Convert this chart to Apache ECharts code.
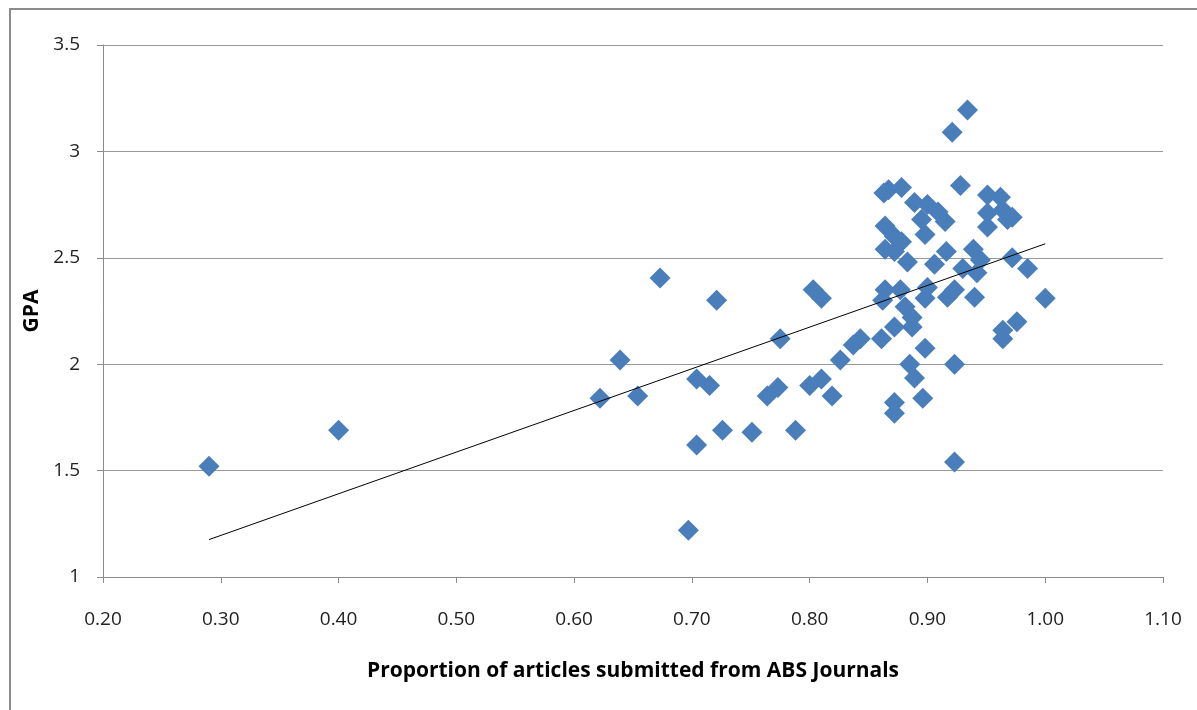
<!DOCTYPE html>
<html>
<head>
<meta charset="utf-8">
<script src="https://cdn.jsdelivr.net/npm/echarts@6/dist/echarts.min.js"></script>
<style>
html,body{margin:0;padding:0;background:#fff;}
#chart{width:1197px;height:710px;}
</style>
</head>
<body>
<div id="chart"></div>
<script>
// Proportion of articles submitted from ABS journals (x) vs GPA (y)
const proportion = [
  0.29, 0.40, 0.622, 0.639, 0.654, 0.673, 0.697, 0.704, 0.704, 0.715,
  0.721, 0.726, 0.751, 0.764, 0.773, 0.775, 0.788, 0.800, 0.803, 0.810,
  0.810, 0.819, 0.826, 0.837, 0.843, 0.861,
  0.863, 0.867, 0.878, 0.889, 0.900, 0.909, 0.915, 0.895, 0.898, 0.864,
  0.872, 0.864, 0.878, 0.872, 0.883, 0.916, 0.906, 0.928, 0.921, 0.934,
  0.951, 0.962, 0.964, 0.951, 0.968, 0.972, 0.951, 0.939, 0.945, 0.930,
  0.942, 0.972, 0.985, 0.864, 0.877, 0.862, 0.900, 0.898, 0.923, 0.917,
  0.940, 1.000, 0.881, 0.887, 0.872, 0.887, 0.898, 0.964, 0.976, 0.964,
  0.885, 0.923, 0.889, 0.896, 0.872, 0.872, 0.923
];
const gpa = [
  1.52, 1.69, 1.84, 2.02, 1.85, 2.405, 1.22, 1.93, 1.62, 1.90,
  2.30, 1.69, 1.68, 1.85, 1.89, 2.12, 1.69, 1.90, 2.35, 2.31,
  1.93, 1.85, 2.02, 2.09, 2.12, 2.12,
  2.805, 2.82, 2.83, 2.76, 2.75, 2.715, 2.67, 2.68, 2.61, 2.65,
  2.60, 2.54, 2.575, 2.53, 2.48, 2.53, 2.47, 2.84, 3.09, 3.195,
  2.795, 2.785, 2.725, 2.71, 2.68, 2.69, 2.645, 2.54, 2.49, 2.45,
  2.43, 2.50, 2.45, 2.35, 2.35, 2.30, 2.36, 2.31, 2.35, 2.315,
  2.315, 2.31, 2.27, 2.22, 2.175, 2.175, 2.075, 2.16, 2.20, 2.12,
  2.00, 2.00, 1.935, 1.84, 1.82, 1.77, 1.54
];
const xTicks = [0.2, 0.3, 0.4, 0.5, 0.6, 0.7, 0.8, 0.9, 1.0, 1.1];
const yTicks = [1, 1.5, 2, 2.5, 3, 3.5];

const points = proportion.map((x, i) => [x, gpa[i]]);

// least-squares linear trend line computed from the data
const n = points.length;
const mx = proportion.reduce((a, b) => a + b, 0) / n;
const my = gpa.reduce((a, b) => a + b, 0) / n;
let sxy = 0, sxx = 0;
for (let i = 0; i < n; i++) {
  sxy += (proportion[i] - mx) * (gpa[i] - my);
  sxx += (proportion[i] - mx) * (proportion[i] - mx);
}
const slope = sxy / sxx;
const intercept = my - slope * mx;
const xMin = Math.min(...proportion), xMax = Math.max(...proportion);
const trend = [[xMin, intercept + slope * xMin], [xMax, intercept + slope * xMax]];

const chart = echarts.init(document.getElementById('chart'), null, {renderer: 'canvas'});
const fontFam = '"Open Sans", "Noto Sans", sans-serif';
chart.setOption({
  animation: false,
  backgroundColor: '#fff',
  graphic: [{
    type: 'polyline',
    shape: {points: [[10, 720], [10, 9], [1210, 9]]},
    style: {stroke: '#8c8c8c', lineWidth: 2, fill: null},
    silent: true
  }],
  grid: {left: 103, right: 34, top: 45, bottom: 133},
  xAxis: {
    type: 'value',
    min: xTicks[0], max: xTicks[xTicks.length - 1], interval: 0.1,
    name: 'Proportion of articles submitted from ABS Journals',
    nameLocation: 'middle', nameGap: 84,
    nameTextStyle: {fontFamily: fontFam, fontSize: 21, fontWeight: 'bold', color: '#000'},
    axisLine: {show: true, lineStyle: {color: '#8c8c8c', width: 1}},
    axisTick: {show: true, inside: false, length: 6, lineStyle: {color: '#8c8c8c'}},
    axisLabel: {
      margin: 33, fontFamily: fontFam, fontSize: 19, color: '#222',
      formatter: v => v.toFixed(2)
    },
    splitLine: {show: false}
  },
  yAxis: {
    type: 'value',
    min: yTicks[0], max: yTicks[yTicks.length - 1], interval: 0.5,
    name: 'GPA', nameLocation: 'middle', nameGap: 60, nameRotate: 90,
    nameTextStyle: {fontFamily: fontFam, fontSize: 21, fontWeight: 'bold', color: '#000'},
    axisLine: {show: true, lineStyle: {color: '#8c8c8c', width: 1}},
    axisTick: {show: true, inside: false, length: 6, lineStyle: {color: '#8c8c8c'}},
    axisLabel: {margin: 23, fontFamily: fontFam, fontSize: 19, color: '#222'},
    splitLine: {show: true, lineStyle: {color: '#9a9a9a', width: 1}}
  },
  series: [
    {
      type: 'scatter',
      data: points,
      symbol: 'diamond',
      symbolSize: 21,
      itemStyle: {color: '#4a7ebb', opacity: 1},
      z: 2
    },
    {
      type: 'line',
      data: trend,
      symbol: 'none',
      lineStyle: {color: '#000', width: 1},
      z: 3
    }
  ]
});
</script>
</body>
</html>
